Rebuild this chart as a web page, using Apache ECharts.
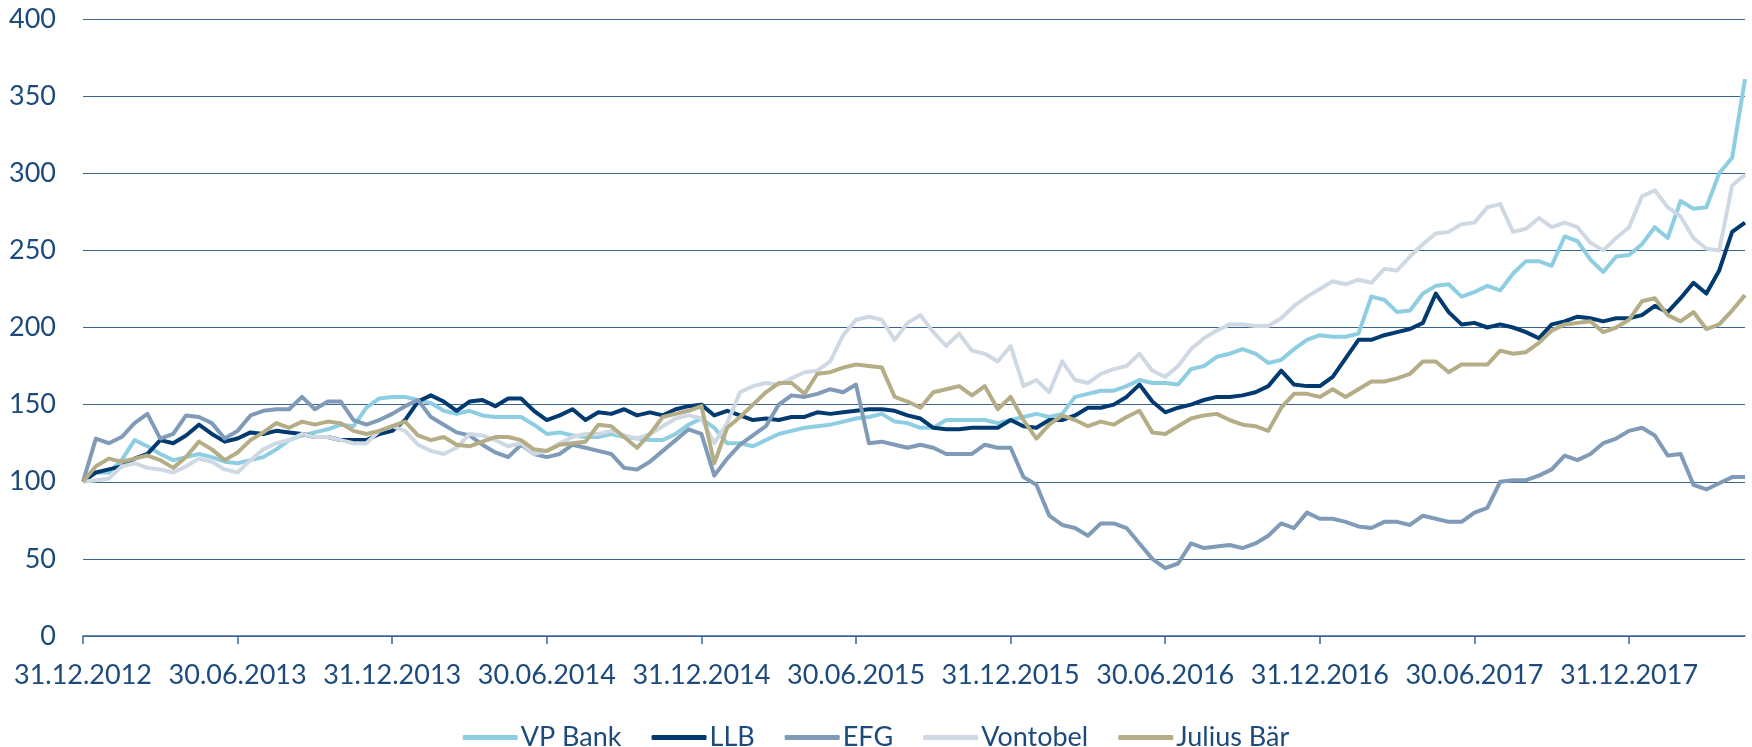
<!DOCTYPE html>
<html>
<head>
<meta charset="utf-8">
<script src="https://cdn.jsdelivr.net/npm/echarts@6/dist/echarts.min.js"></script>
<style>
  html, body { margin: 0; padding: 0; background: #fff; }
  #main { width: 1752px; height: 747px; }
</style>
</head>
<body>
<div id="main"></div>
<script>
const xTicks = ['31.12.2012', '30.06.2013', '31.12.2013', '30.06.2014', '31.12.2014', '30.06.2015',
  '31.12.2015', '30.06.2016', '31.12.2016', '30.06.2017', '31.12.2017']

const vpBank = [100, 106, 106, 114, 127, 123, 118, 114, 116, 118, 116, 113, 112, 114, 116, 121, 127, 130, 132, 134,
  137, 136, 148, 154, 155, 155, 153, 151, 146, 144, 146, 143, 142, 142, 142, 137, 131, 132, 130, 129,
  129, 131, 129, 128, 127, 127, 131, 137, 141, 135, 125, 125, 123, 127, 131, 133, 135, 136, 137, 139,
  141, 142, 144, 139, 138, 135, 135, 140, 140, 140, 140, 138, 140, 142, 144, 142, 144, 155, 157, 159,
  159, 162, 166, 164, 164, 163, 173, 175, 181, 183, 186, 183, 177, 179, 186, 192, 195, 194, 194, 196,
  220, 218, 210, 211, 222, 227, 228, 220, 223, 227, 224, 235, 243, 243, 240, 259, 256, 244, 236, 246,
  247, 254, 265, 258, 282, 277, 278, 300, 310, 361]

const llb = [100, 106, 108, 110, 115, 118, 127, 125, 130, 137, 131, 126, 128, 132, 131, 133, 132, 131, 129, 129,
  127, 127, 127, 131, 133, 140, 152, 156, 152, 146, 152, 153, 149, 154, 154, 146, 140, 143, 147, 140,
  145, 144, 147, 143, 145, 143, 147, 149, 150, 143, 146, 143, 140, 141, 140, 142, 142, 145, 144, 145,
  146, 147, 147, 146, 143, 141, 135, 134, 134, 135, 135, 135, 140, 136, 135, 140, 140, 143, 148, 148,
  150, 155, 163, 152, 145, 148, 150, 153, 155, 155, 156, 158, 162, 172, 163, 162, 162, 168, 180, 192,
  192, 195, 197, 199, 203, 222, 210, 202, 203, 200, 202, 200, 197, 193, 202, 204, 207, 206, 204, 206,
  206, 208, 214, 210, 219, 229, 222, 237, 262, 268]

const efg = [100, 128, 125, 129, 138, 144, 128, 131, 143, 142, 138, 128, 133, 143, 146, 147, 147, 155, 147, 152,
  152, 140, 137, 140, 144, 149, 153, 142, 137, 132, 130, 124, 119, 116, 124, 118, 116, 118, 124, 122,
  120, 118, 109, 108, 113, 120, 127, 134, 131, 104, 115, 124, 130, 136, 150, 156, 155, 157, 160, 158,
  163, 125, 126, 124, 122, 124, 122, 118, 118, 118, 124, 122, 122, 103, 98, 78, 72, 70, 65, 73,
  73, 70, 60, 50, 44, 47, 60, 57, 58, 59, 57, 60, 65, 73, 70, 80, 76, 76, 74, 71,
  70, 74, 74, 72, 78, 76, 74, 74, 80, 83, 100, 101, 101, 104, 108, 117, 114, 118, 125, 128,
  133, 135, 130, 117, 118, 98, 95, 99, 103, 103]

const vontobel = [100, 101, 102, 110, 112, 109, 108, 106, 110, 115, 113, 108, 106, 114, 121, 125, 127, 131, 129, 129,
  127, 125, 125, 133, 136, 133, 124, 120, 118, 122, 131, 130, 127, 123, 125, 118, 120, 125, 129, 131,
  131, 133, 130, 128, 131, 136, 141, 143, 141, 125, 138, 158, 162, 164, 163, 167, 171, 172, 178, 195,
  205, 207, 205, 192, 203, 208, 197, 188, 196, 185, 183, 178, 188, 162, 166, 158, 178, 166, 164, 170,
  173, 175, 183, 172, 168, 175, 186, 193, 198, 202, 202, 201, 201, 206, 214, 220, 225, 230, 228, 231,
  229, 238, 237, 246, 254, 261, 262, 267, 268, 278, 280, 262, 264, 271, 265, 268, 265, 255, 250, 258,
  265, 285, 289, 278, 272, 258, 251, 250, 292, 299]

const juliusBaer = [100, 110, 115, 113, 115, 117, 114, 109, 116, 126, 121, 114, 119, 127, 132, 138, 135, 139, 137, 139,
  138, 133, 131, 133, 136, 139, 130, 127, 129, 124, 123, 126, 129, 129, 127, 121, 120, 124, 125, 126,
  137, 136, 129, 122, 131, 142, 144, 146, 149, 112, 135, 142, 150, 158, 164, 164, 157, 170, 171, 174,
  176, 175, 174, 155, 152, 148, 158, 160, 162, 156, 162, 147, 155, 140, 128, 137, 143, 140, 136, 139,
  137, 142, 146, 132, 131, 136, 141, 143, 144, 140, 137, 136, 133, 148, 157, 157, 155, 160, 155, 160,
  165, 165, 167, 170, 178, 178, 171, 176, 176, 176, 185, 183, 184, 190, 198, 202, 203, 204, 197, 200,
  205, 217, 219, 208, 204, 210, 199, 202, 211, 221]

// Stichtage: Monatsmitte und Monatsende, 31.12.2012 bis 15.05.2018
const dates = ['31.12.2012']
for (let y = 2013; y <= 2018; y++) {
  for (let m = 1; m <= 12; m++) {
    if (dates.length >= vpBank.length) break
    const mm = String(m).padStart(2, '0')
    dates.push('15.' + mm + '.' + y)
    if (dates.length >= vpBank.length) break
    const last = new Date(y, m, 0).getDate()
    dates.push(last + '.' + mm + '.' + y)
  }
}

const textColor = '#1c4a7c'
const lineColor = '#3b6592'
const font = 'Lato, Roboto, sans-serif'

const myChart = echarts.init(document.getElementById('main'))

function makeSeries (name, data, color) {
  return {
    name: name,
    type: 'line',
    data: data,
    showSymbol: false,
    symbol: 'none',
    lineStyle: { width: 4, color: color, join: 'round' },
    itemStyle: { color: color }
  }
}

const option = {
  animation: false,
  backgroundColor: '#ffffff',
  grid: {
    left: 83,
    right: 7,
    top: 19,
    bottom: 111
  },
  legend: {
    top: 719,
    left: 'center',
    icon: 'roundRect',
    itemWidth: 55,
    itemHeight: 5,
    itemGap: 30,
    textStyle: { color: textColor, fontSize: 27, fontFamily: font, padding: [0, 0, 0, -2] },
    data: ['VP Bank', 'LLB', 'EFG', 'Vontobel', 'Julius Bär']
  },
  xAxis: {
    type: 'category',
    boundaryGap: false,
    data: dates,
    axisLine: { lineStyle: { color: lineColor, width: 1.5 } },
    axisTick: {
      length: 8,
      lineStyle: { color: lineColor, width: 1.5 },
      interval: function (idx, val) { return xTicks.indexOf(val) >= 0 }
    },
    axisLabel: {
      color: textColor,
      fontSize: 27,
      fontFamily: font,
      margin: 26,
      interval: function (idx, val) { return xTicks.indexOf(val) >= 0 }
    },
    splitLine: { show: false }
  },
  yAxis: {
    type: 'value',
    min: 0,
    max: 400,
    interval: 50,
    axisLine: { show: false },
    axisTick: { show: false },
    axisLabel: { color: textColor, fontSize: 27, fontFamily: font, margin: 27 },
    splitLine: { lineStyle: { color: lineColor, width: 1.2 } }
  },
  series: [
    makeSeries('VP Bank', vpBank, '#8ecee2'),
    makeSeries('LLB', llb, '#003a70'),
    makeSeries('EFG', efg, '#7f9bb8'),
    makeSeries('Vontobel', vontobel, '#cfd9e3'),
    makeSeries('Julius Bär', juliusBaer, '#b4ad85')
  ]
}

myChart.setOption(option)
</script>
</body>
</html>
